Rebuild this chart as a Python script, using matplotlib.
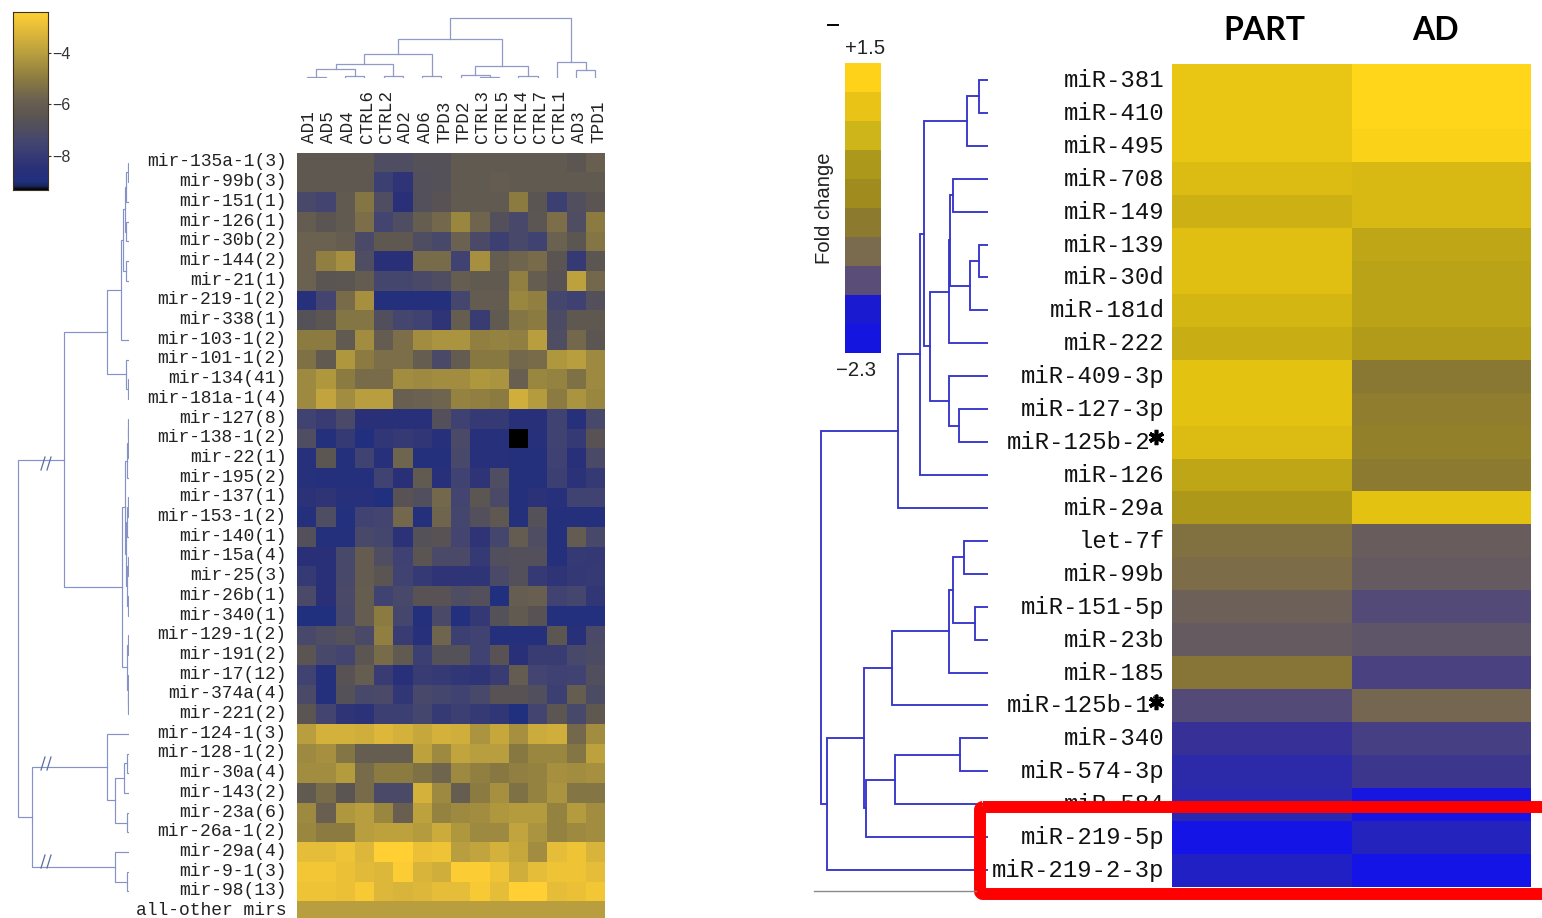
import numpy as np
import matplotlib
matplotlib.use("Agg")
import matplotlib.pyplot as plt
from matplotlib.colors import LinearSegmentedColormap, Normalize, ListedColormap
from matplotlib.patches import FancyBboxPatch
from matplotlib.transforms import ScaledTranslation

W, H = 1542, 918

# ---------- left panel data ----------
left_rows = ["mir-135a-1(3)", "mir-99b(3)", "mir-151(1)", "mir-126(1)", "mir-30b(2)", "mir-144(2)", "mir-21(1)",
             "mir-219-1(2)", "mir-338(1)", "mir-103-1(2)", "mir-101-1(2)", "mir-134(41)", "mir-181a-1(4)",
             "mir-127(8)", "mir-138-1(2)", "mir-22(1)", "mir-195(2)", "mir-137(1)", "mir-153-1(2)", "mir-140(1)",
             "mir-15a(4)", "mir-25(3)", "mir-26b(1)", "mir-340(1)", "mir-129-1(2)", "mir-191(2)", "mir-17(12)",
             "mir-374a(4)", "mir-221(2)", "mir-124-1(3)", "mir-128-1(2)", "mir-30a(4)", "mir-143(2)", "mir-23a(6)",
             "mir-26a-1(2)", "mir-29a(4)", "mir-9-1(3)", "mir-98(13)", "all-other mirs"]
left_cols = ["AD1", "AD5", "AD4", "CTRL6", "CTRL2", "AD2", "AD6", "TPD3", "TPD2", "CTRL3", "CTRL5", "CTRL4",
             "CTRL7", "CTRL1", "AD3", "TPD1"]
left_values = [
    [-6.3,-6.3,-6.3,-6.3,-7,-7,-6.7,-6.7,-6.2,-6.2,-6.2,-6.2,-6.2,-6.2,-6.4,-5.9],
    [-6.3,-6.3,-6.3,-6.3,-7.8,-8.3,-6.8,-6.7,-6.2,-6.2,-6.1,-6.2,-6.2,-6.2,-6.2,-6.2],
    [-7.3,-7.5,-6.2,-5.2,-7,-8.5,-6.8,-6.6,-6.2,-6.2,-6.2,-5,-6.5,-7.8,-6.9,-6.5],
    [-6.1,-6.5,-6.2,-5.4,-7.5,-7,-6,-5.6,-4.7,-5.7,-6.8,-7.3,-6.4,-5.4,-7,-5],
    [-5.8,-5.8,-6,-7.2,-6.3,-6.3,-7,-7.3,-5.8,-7.2,-7.8,-7.3,-7.6,-5.8,-6.4,-5.2],
    [-5.8,-4.9,-4.4,-7,-8.5,-8.5,-5.5,-5.5,-7.6,-4.4,-6,-5.7,-5.5,-6.5,-8,-6.4],
    [-5.8,-6.5,-6.4,-6.1,-7.4,-7.4,-7.2,-7,-6,-6.2,-6.2,-4.9,-6,-6.6,-3.9,-5.6],
    [-8.7,-7.5,-5.5,-4.4,-8.8,-8.8,-8.8,-8.8,-7.4,-6.1,-6.1,-4.7,-4.9,-7.4,-7.7,-6.8],
    [-6.7,-6.4,-5.2,-5.2,-6.9,-7.4,-7.6,-8.3,-6,-7.9,-6.2,-5.2,-5,-7.1,-6.3,-6.3],
    [-5,-5,-6.2,-4.5,-6.1,-5.4,-4.5,-4.3,-4.3,-4.9,-4.8,-4.9,-4,-7,-5.6,-6.4],
    [-5.3,-6.2,-4.2,-5,-5.4,-5.4,-6,-7.2,-6.1,-5.1,-5.1,-5.6,-5.5,-4.2,-4,-4.6],
    [-4.6,-4.2,-5,-5.5,-5.5,-4.5,-4.6,-4.5,-4.5,-4.2,-4.3,-5.9,-4.7,-4.8,-5.3,-4.6],
    [-4.6,-3.8,-4.5,-4,-4,-5.9,-5.8,-5.7,-4.8,-4.9,-5,-3.5,-4.1,-5,-4.3,-4.7],
    [-7.6,-7.9,-7.2,-8.5,-8.5,-8.6,-8.6,-6.8,-7.7,-8,-8,-8.6,-8.6,-7.6,-8.7,-7.3],
    [-7,-8.8,-8,-9,-8.2,-8,-8.2,-8.7,-7.2,-8.7,-8.7,np.nan,-8.7,-7.6,-8,-6.6],
    [-8.7,-6.4,-8.8,-7.6,-8.7,-5.7,-8.8,-8.8,-7.3,-8.7,-8.7,-8.8,-8.8,-7.7,-8.6,-7.2],
    [-8.7,-8.8,-8.8,-8.8,-7.6,-8.5,-6.2,-8.6,-7.6,-8.3,-7,-8.8,-8.8,-7.8,-8.4,-8],
    [-8.4,-8.3,-8.7,-8.7,-9,-6.6,-6.9,-5.6,-7.5,-6.4,-7.2,-8.8,-8.4,-8.7,-7.6,-7.6],
    [-8.8,-7,-8.9,-7.6,-7.5,-5.6,-8.8,-5.7,-7.4,-6.8,-6.3,-8.8,-6.7,-8.8,-8.8,-8.8],
    [-6.8,-8.8,-8.8,-7.3,-7.4,-8.4,-6.7,-6.6,-7.5,-8.3,-7.4,-6.1,-7,-8.8,-6.1,-7.3],
    [-8.5,-8.5,-7.3,-6.1,-7,-7.7,-6.5,-7.2,-7.2,-8,-6.9,-6.8,-6.8,-8.8,-8,-8.1],
    [-8,-8.5,-7.3,-6.1,-6.5,-7.6,-8,-8.3,-8.3,-8.3,-7.2,-6.8,-8,-8.3,-8.1,-8],
    [-7.2,-8.5,-7.2,-6,-7.6,-7.3,-6.6,-6.6,-7,-6.8,-9,-6,-5.9,-7.6,-7.4,-8.2],
    [-9,-9,-7.3,-6,-5,-7.4,-8.8,-7.2,-8.9,-8.1,-6.7,-6.2,-6.6,-8.9,-8.9,-8.9],
    [-7.3,-7,-6.7,-7.2,-4.9,-7.9,-8.7,-5.7,-7.8,-7.6,-8.8,-8.8,-8.8,-6.4,-8.6,-7.2],
    [-6.5,-7.3,-7.5,-6.4,-5.5,-6.2,-7.8,-6.7,-6.7,-7.6,-6.6,-8.5,-7.9,-7.9,-7.3,-7.1],
    [-7.6,-8.8,-6.6,-6,-7.9,-8.6,-7.9,-8,-8.2,-8.3,-7.9,-6.1,-7.5,-7.7,-7.6,-6.9],
    [-7.2,-8.8,-6.7,-7.3,-7.2,-8.2,-7.3,-7.4,-7.6,-7.3,-6.6,-6.6,-6.9,-7.8,-6,-7.1],
    [-6.5,-7.5,-8.3,-8.4,-7.8,-7.8,-7.4,-8,-7.8,-8,-8.2,-9,-7.5,-6.4,-7.3,-6.3],
    [-4,-3.4,-3.4,-3.5,-3.2,-3.4,-3.7,-3.4,-3.5,-4.3,-3.7,-4.4,-3.6,-3.5,-5.6,-4.5],
    [-4.6,-4.4,-5.2,-6,-6,-6,-3.9,-4.6,-3.8,-4,-4,-5.1,-4.7,-4.7,-5.2,-3.9],
    [-4.5,-4.5,-4.1,-5.5,-5,-5,-5.3,-5.7,-4.6,-4.9,-5.1,-4.9,-4.8,-4.4,-4.5,-4.4],
    [-6.2,-5.5,-6.5,-5.5,-7.2,-7.2,-3.4,-4.6,-6,-5,-4.4,-5.3,-4.8,-4.3,-5.2,-5.2],
    [-4.6,-5.9,-4.2,-4,-4.7,-5.9,-3.9,-4.8,-4.6,-4.5,-4.2,-4.1,-4.1,-4.8,-4.1,-4.5],
    [-4.7,-5,-5,-4,-3.9,-3.9,-4.1,-3.6,-4.2,-4.6,-4.6,-3.8,-4.3,-4.8,-4.6,-4.5],
    [-3,-3,-2.8,-3.2,-2.2,-2.2,-2.9,-2.8,-4,-3.8,-3.4,-3.7,-4.5,-3,-2.8,-3.3],
    [-2.7,-2.7,-2.9,-3.1,-3.2,-2.5,-3.3,-3.5,-2.5,-2.5,-2.8,-3.5,-3,-2.8,-2.8,-3],
    [-2.8,-2.8,-2.9,-2.6,-3.2,-3.3,-3.2,-3,-3,-2.6,-3,-2.3,-2.3,-3,-2.9,-2.7],
    [-4,-4,-4,-4,-4,-4,-4,-4,-4,-4,-4,-4,-4,-4,-4,-4],
]
left_ticks = [-4, -6, -8]
left_scale = (-9.33, -2.4)
left_stops = [(-9.33, "#000000"), (-9.2, "#1a2558"), (-9.0, "#20307f"), (-8.5, "#2a3078"), (-7.5, "#434570"),
              (-6.5, "#5a5452"), (-5.8, "#6b6150"), (-5.0, "#8b7b40"), (-4.0, "#b89e3e"), (-3.0, "#e6bd38"),
              (-2.4, "#ffcf33")]

# dendrograms: (merge height, child, child); ints are leaves
left_row_tree = (111,
    (65.5,
        (22,
            (8,
                (6, (4.5, (3.5, (0.8, 0, 1), 2), (3, 3, 4)), (3, 5, 6)),
                9),
            (3, 10, (1.5, 11, 12))),
        (7,
            (4.5,
                (2.5, (1.5, (0.8, 13, 14), 15), 16),
                (3.5, (2.5, (1.5, 17, 18), 19), (2.5, (1.5, 20, 21), (1.5, 22, 23)))),
            (2.5, (1, 24, 25), (1.5, 26, (0.8, 27, 28))))),
    (97,
        (22.5, 29, (14, (5, (2, 30, 31), 32), (2.5, 33, 34))),
        (14, 35, (2.5, 36, 37))))
left_col_tree = (60,
    (39.3,
        (24,
            (14, (9, (1.5, 0, 1), (2, 2, 3)), (2, 4, 5)),
            (2, 6, 7)),
        (12.5, (3, 8, (1, 9, 10)), (2, 11, 12))),
    (16, 13, (8, 14, 15)))

# ---------- right panel data ----------
right_rows = ["miR-381", "miR-410", "miR-495", "miR-708", "miR-149", "miR-139", "miR-30d", "miR-181d", "miR-222",
              "miR-409-3p", "miR-127-3p", "miR-125b-2*", "miR-126", "miR-29a", "let-7f", "miR-99b", "miR-151-5p",
              "miR-23b", "miR-185", "miR-125b-1*", "miR-340", "miR-574-3p", "miR-584", "miR-219-5p", "miR-219-2-3p"]
right_cols = ["PART", "AD"]
part_values = [1.1, 1.1, 1.1, 0.9, 0.7, 0.95, 0.95, 0.8, 0.65, 1.0, 1.0, 0.9, 0.55, 0.35, -0.3, -0.4, -0.6, -0.7,
               -0.2, -1.0, -1.5, -1.8, -1.9, -2.3, -2.05]
ad_values = [1.5, 1.5, 1.4, 0.85, 0.85, 0.55, 0.5, 0.5, 0.4, -0.15, -0.05, 0.0, -0.1, 1.0, -0.65, -0.7, -1.0, -0.8,
             -1.15, -0.5, -1.2, -1.35, -2.25, -2.0, -2.3]
right_scale = (-2.3, 1.5)
right_scale_labels = ["+1.5", "\u22122.3"]
right_stops = [(-2.3, "#1414e6"), (-1.9, "#2a28b0"), (-1.4, "#3a3490"), (-1.0, "#544a78"), (-0.7, "#645a60"),
               (-0.4, "#7c6c48"), (-0.1, "#8c7a30"), (0.3, "#a8941a"), (0.6, "#c4aa15"), (1.0, "#e4c212"),
               (1.5, "#ffd61a")]
right_bar_colors = ["#ffd21a", "#e9c416", "#cdb51a", "#ac981b", "#a08c1e", "#8c7a2e", "#7a6a4e", "#5a4d78",
                    "#1a1ad0", "#1515e0"]
right_tree = (167,
    (90,
        (68,
            (64.3,
                (21.3, (9.5, 0, 1), 2),
                (58,
                    (39.3, (38, (35, 3, 4), (18, (9.5, 5, 6), 7)), 8),
                    (39.3, 9, (29.4, 10, 11)))),
            12),
        13),
    (161,
        (124,
            (96.4, (39.3, (35, (24, 14, 15), (13, 16, 17)), 18), 19),
            (122, (93, (28.4, 20, 21), 22), 23)),
        24))


def cmap_from(stops, lo, hi, name):
    return LinearSegmentedColormap.from_list(name, [((v - lo) / (hi - lo), c) for v, c in stops], N=512)


def axes_px(x0, y0, x1, y1):
    return fig.add_axes([x0 / W, 1 - y1 / H, (x1 - x0) / W, (y1 - y0) / H])


def nudge(labels, dx_px, dy_px):
    off = ScaledTranslation(dx_px / 100, dy_px / 100, fig.dpi_scale_trans)
    for lab in labels:
        lab.set_transform(lab.get_transform() + off)


def draw_tree(ax, node, vertical, color, lw):
    """Draw nested merges; returns (leaf position, merge height)."""
    if not isinstance(node, tuple):
        return node + 0.5, 0
    h, a, b = node
    pa, ha = draw_tree(ax, a, vertical, color, lw)
    pb, hb = draw_tree(ax, b, vertical, color, lw)
    p, v = [pa, pa, pb, pb], [ha, h, h, hb]
    if vertical:
        ax.plot(p, v, color=color, lw=lw, solid_joinstyle="miter")
    else:
        ax.plot(v, p, color=color, lw=lw, solid_joinstyle="miter")
    return (pa + pb) / 2, h


fig = plt.figure(figsize=(W / 100, H / 100), dpi=100, facecolor="white")
mono = "Liberation Mono"
sans = "Liberation Sans"

# ---------- left heatmap ----------
L = (297, 152.7, 605, 921)
left_cmap = cmap_from(left_stops, *left_scale, "left")
left_cmap.set_bad("#000000")
norm_l = Normalize(*left_scale)
ax = axes_px(*L)
ax.pcolormesh(np.ma.masked_invalid(np.array(left_values)), cmap=left_cmap, norm=norm_l, antialiased=False)
ax.set_xlim(0, len(left_cols))
ax.set_ylim(len(left_rows), 0)
ax.set_yticks(np.arange(len(left_rows)) + 0.5, left_rows, family=mono, fontsize=13, color="#222222")
ax.xaxis.tick_top()
ax.set_xticks(np.arange(len(left_cols)) + 0.5, left_cols, family=mono, fontsize=12.7, rotation=90, color="#222222")
ax.tick_params(length=0, axis="y", pad=7.5)
ax.tick_params(length=0, axis="x", pad=7)
nudge(ax.get_yticklabels(), 0, 2.6)
nudge(ax.get_xticklabels(), 3, 0)
for s in ax.spines.values():
    s.set_visible(False)

# left row dendrogram
d = axes_px(10, L[1], 129, L[3])
d.set_xlim(119, 0)
d.set_ylim(len(left_rows), 0)
d.axis("off")
draw_tree(d, left_row_tree, False, "#8492c8", 0.85)

# left column dendrogram
d = axes_px(L[0], 10, L[2], 78)
d.set_xlim(0, len(left_cols))
d.set_ylim(0, 68)
d.axis("off")
draw_tree(d, left_col_tree, True, "#8f9ac8", 0.9)

# left colour bar
cax = axes_px(13, 12, 48, 190)
grad = np.linspace(*left_scale, 400)[:, None]
cax.pcolormesh([0, 1], np.linspace(*left_scale, 401), grad, cmap=left_cmap, norm=norm_l, antialiased=False)
cax.set_ylim(*left_scale)
cax.set_xticks([])
cax.yaxis.tick_right()
cax.set_yticks(left_ticks, [f"\u2212{abs(t)}" for t in left_ticks], family=sans, fontsize=11.5, color="#333333")
cax.tick_params(axis="y", length=2, width=0.8, pad=1, color="#3a3320")
for s in cax.spines.values():
    s.set_linewidth(0.8)
    s.set_color("#3a3320")

# ---------- right heatmap ----------
R = (1172, 63.5, 1531, 886.5)
right_cmap = cmap_from(right_stops, *right_scale, "right")
ax = axes_px(*R)
ax.pcolormesh(np.column_stack([part_values, ad_values]), cmap=right_cmap, norm=Normalize(*right_scale),
              antialiased=False)
ax.set_xlim(0, 2)
ax.set_ylim(len(right_rows), 0)
ax.set_yticks(np.arange(len(right_rows)) + 0.5, right_rows, family=mono, fontsize=17.2, color="#111111")
ax.xaxis.tick_top()
ax.set_xticks([0.5, 1.5], right_cols, family="Lato", fontweight="bold", fontsize=23, color="black")
ax.tick_params(length=0, axis="y", pad=5.2)
ax.tick_params(length=0, axis="x", pad=13)
nudge(ax.get_yticklabels(), 0, 2)
nudge(ax.get_xticklabels()[:1], 3, 0)
nudge(ax.get_xticklabels()[1:], -6, 0)
for s in ax.spines.values():
    s.set_visible(False)

d = axes_px(815, R[1], 988, R[3])
d.set_xlim(173, 0)
d.set_ylim(len(right_rows), 0)
d.axis("off")
draw_tree(d, right_tree, False, "#3636cc", 1.35)

# right colour bar
cax = axes_px(845, 62.5, 881, 352.5)
n = len(right_bar_colors)
cax.pcolormesh([[i] for i in range(n)], cmap=ListedColormap(right_bar_colors), antialiased=False)
cax.set_ylim(n, 0)
cax.axis("off")

# ---------- annotations on a full-figure canvas ----------
cv = fig.add_axes([0, 0, 1, 1], zorder=20)
cv.set_xlim(0, W)
cv.set_ylim(H, 0)
cv.axis("off")
cv.patch.set_alpha(0)
cv.text(865, 48.5, right_scale_labels[0], family=sans, fontsize=14.6, ha="center", va="center", color="#222222")
cv.text(856, 370, right_scale_labels[1], family=sans, fontsize=14.6, ha="center", va="center", color="#222222")
cv.text(825, 208, "Fold change", family=sans, fontsize=14.6, rotation=90, ha="center", va="center", color="#222222")
cv.plot([828, 838], [25, 25], color="black", lw=1.4)
cv.plot([814, 976], [891, 891], color="#8a8a8a", lw=1)
for yc in (463.5, 763.5, 861.5):
    for off in (0, 6):
        cv.plot([41 + off, 45 + off], [yc + 6.5, yc - 6.5], color="#5a6ea4", lw=0.9)
# bold asterisks beside the two starred labels
for yc in (437, 701.5):
    cv.plot([1156], [yc], marker=(6, 2, 0), ms=11, mew=2.6, color="black", ls="none")
cv.add_patch(FancyBboxPatch((980, 807), 590, 87, boxstyle="round,pad=0,rounding_size=3", fill=False,
                            ec="#ff0000", lw=8.6, joinstyle="round"))

fig.savefig("out.png", dpi=100, facecolor="white")
